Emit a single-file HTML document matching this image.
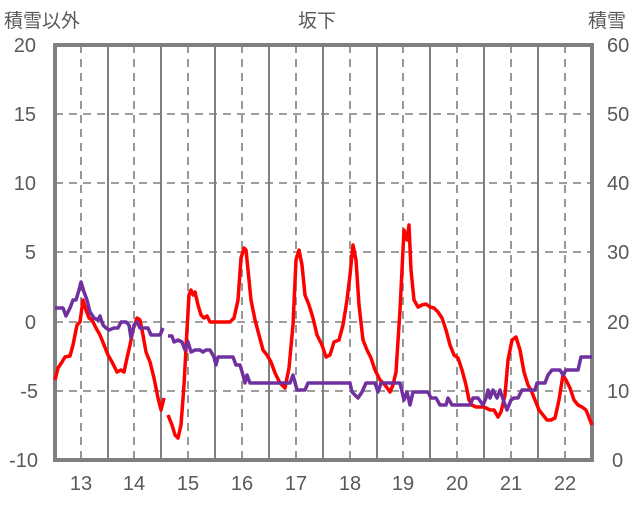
<!DOCTYPE html>
<html><head><meta charset="utf-8"><style>
body{margin:0;background:#fff}
text{font-family:"Liberation Sans","Noto Sans CJK JP",sans-serif;fill:#595959}
</style></head><body>
<svg width="636" height="501" viewBox="0 0 636 501" xmlns="http://www.w3.org/2000/svg">
<g stroke="#7f7f7f" stroke-width="2">
<line x1="108" y1="45" x2="108" y2="460"/><line x1="161" y1="45" x2="161" y2="460"/><line x1="215" y1="45" x2="215" y2="460"/><line x1="269" y1="45" x2="269" y2="460"/><line x1="323" y1="45" x2="323" y2="460"/><line x1="377" y1="45" x2="377" y2="460"/><line x1="430" y1="45" x2="430" y2="460"/><line x1="484" y1="45" x2="484" y2="460"/><line x1="538" y1="45" x2="538" y2="460"/>
</g>
<g stroke="#7f7f7f" stroke-width="1.6" stroke-dasharray="8,6">
<line x1="81" y1="45" x2="81" y2="460"/><line x1="134" y1="45" x2="134" y2="460"/><line x1="188" y1="45" x2="188" y2="460"/><line x1="242" y1="45" x2="242" y2="460"/><line x1="296" y1="45" x2="296" y2="460"/><line x1="350" y1="45" x2="350" y2="460"/><line x1="403" y1="45" x2="403" y2="460"/><line x1="457" y1="45" x2="457" y2="460"/><line x1="511" y1="45" x2="511" y2="460"/><line x1="565" y1="45" x2="565" y2="460"/>
<line x1="55" y1="114" x2="592" y2="114"/><line x1="55" y1="183" x2="592" y2="183"/><line x1="55" y1="252" x2="592" y2="252"/><line x1="55" y1="322" x2="592" y2="322"/><line x1="55" y1="391" x2="592" y2="391"/>
</g>
<rect x="55" y="45" width="537" height="415" fill="none" stroke="#7f7f7f" stroke-width="4"/>
<g fill="none" stroke="#ff0000" stroke-width="3.5" stroke-linejoin="round">
<polyline points="55,380 58,368 62,362 65,357 70,356 73,345 77,325 80,322 83,300 86,310 89,318 92,320 96,328 100,335 104,345 108,355 112,362 117,372 121,370 124,372 127,358 130,345 133,330 137,318 140,320 143,335 146,352 150,362 154,378 158,398 161,410 164,398"/>
<polyline points="168,415 172,425 175,435 178,438 181,425 184,385 187,330 189,295 191,290 193,295 195,292 198,305 201,315 204,318 207,316 210,322 214,322 225,322 230,322 234,318 238,300 241,258 244,248 246,250 248,270 251,300 255,320 259,335 263,350 267,355 271,362 275,373 280,383 285,388 289,368 293,325 296,260 299,250 302,265 305,295 309,305 313,318 317,335 322,345 326,357 330,355 334,342 339,340 343,325 347,300 350,275 353,245 356,260 359,305 363,340 367,350 371,358 375,370 380,380 385,385 390,392 393,385 396,372 400,310 404,230 407,240 409,225 411,270 414,300 418,307 422,305 426,304 430,307 434,308 438,312 442,318 446,330 450,345 454,355 458,358 462,370 466,385 469,400 472,405 476,407 484,407 490,410 494,410 498,417 501,412 505,395 508,360 512,340 516,337 520,350 524,372 528,385 531,390 535,400 539,410 543,415 547,420 551,420 555,418 559,400 563,375 566,380 570,388 574,400 578,405 582,407 586,410 590,420 592,425"/>
</g>
<g fill="none" stroke="#7030a0" stroke-width="3.5" stroke-linejoin="round">
<polyline points="55,308 63,308 66,316 70,308 73,300 76,300 79,290 81,282 84,292 87,300 90,312 94,318 98,320 100,316 103,325 106,328 109,330 114,328 118,328 121,322 126,322 129,325 131,338 134,325 137,322 140,328 145,328 148,328 151,335 160,335 163,328"/>
<polyline points="168,336 172,336 174,342 178,340 182,342 185,350 188,342 191,352 195,350 200,350 203,352 206,350 210,350 214,357 216,365 218,357 233,357 236,365 240,365 243,375 245,383 247,375 250,383 290,383 293,375 297,390 305,390 308,383 350,383 352,392 358,398 362,392 366,383 375,383 378,392 381,383 400,383 404,400 407,392 410,405 413,392 428,392 431,398 436,398 440,405 446,405 448,398 452,405 470,405 473,398 478,398 483,405 486,398 488,390 490,398 493,390 497,398 500,390 504,402 507,410 511,400 514,398 518,398 522,390 535,390 537,383 545,383 548,375 552,370 560,370 563,375 566,370 578,370 581,357 592,357"/>
</g>
<g font-size="20" text-anchor="end">
<text x="36" y="52">20</text><text x="36" y="121">15</text><text x="36" y="190">10</text><text x="36" y="259">5</text><text x="36" y="329">0</text><text x="38" y="398">-5</text><text x="38" y="467">-10</text>
</g>
<g font-size="20" text-anchor="start">
<text x="607" y="52">60</text><text x="607" y="121">50</text><text x="607" y="190">40</text><text x="607" y="259">30</text><text x="607" y="329">20</text><text x="607" y="398">10</text><text x="612" y="467">0</text>
</g>
<g font-size="20" text-anchor="middle">
<text x="81" y="490">13</text><text x="134" y="490">14</text><text x="188" y="490">15</text><text x="242" y="490">16</text><text x="296" y="490">17</text><text x="350" y="490">18</text><text x="403" y="490">19</text><text x="457" y="490">20</text><text x="511" y="490">21</text><text x="565" y="490">22</text>
</g>
<text x="4" y="27" font-size="19">積雪以外</text>
<text x="317" y="27" font-size="19" text-anchor="middle">坂下</text>
<text x="588" y="27" font-size="19">積雪</text>
</svg>
</body></html>
